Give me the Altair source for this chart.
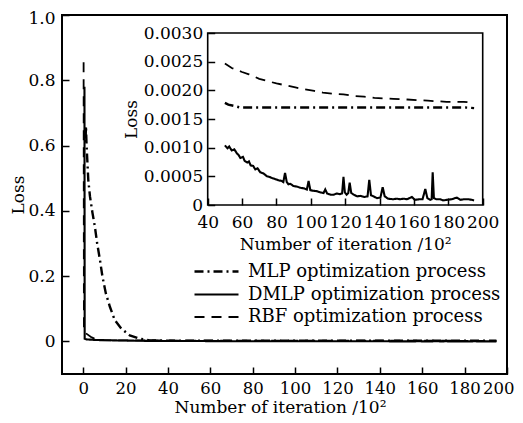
import altair as alt
import pandas as pd

# ---------------- data ----------------
series_names = ["MLP optimization process", "DMLP optimization process", "RBF optimization process"]

mlp_x = [0.9, 1.1, 1.3, 1.6, 2.4, 3.2, 4.4, 5.5, 6.6, 7.9, 9.1, 10.7, 12.6, 14.9, 18, 22, 26.7, 31.4, 40,
         50, 52, 55, 59, 70, 80, 90, 100, 110, 120, 130, 140, 150, 160, 170, 180, 190, 195]
mlp_y = [0.65, 0.61, 0.66, 0.60, 0.495, 0.444, 0.393, 0.352, 0.30, 0.25, 0.198, 0.147, 0.106, 0.065, 0.039, 0.018, 0.008, 0.003, 0.0019,
         0.00178, 0.00175, 0.00173, 0.0017, 0.0017, 0.0017, 0.0017, 0.0017, 0.0017, 0.0017, 0.0017, 0.0017, 0.0017, 0.0017, 0.0017, 0.0017, 0.0017, 0.00169]

dmlp_x = [0.6, 0.7, 1.5, 4, 7, 15, 30, 40,
          50, 51.5, 52.5, 54, 55.5, 57, 58, 59, 60.5, 61.5, 63, 64, 65, 66.5, 67.7, 69, 70.6, 72.5, 74.5, 76, 77.4,
          79.5, 81.3, 83, 84, 85, 86, 87, 88, 90, 92, 94, 96, 97.7, 98.7, 99.7, 101, 103.6, 105.5, 107.4, 108.4,
          109.5, 111.5, 113.3, 115, 117, 118.2, 119, 119.8, 120.8, 121.8, 122.6, 123.5, 125, 127, 129, 131, 133,
          134, 135, 136.5, 138.5, 140.5, 141.8, 143, 145, 148, 150, 152, 154, 156, 158.8, 160.5, 163, 165, 166.6,
          167.8, 169.5, 170.3, 170.9, 171.6, 173, 175.3, 177, 179, 182, 185, 187, 189, 192, 195]
dmlp_y = [0.78, 0.008, 0.006, 0.005, 0.004, 0.003, 0.0015, 0.0012,
          0.00104, 0.00099, 0.00102, 0.00095, 0.00097, 0.0009, 0.00087, 0.00082, 0.00084, 0.00077, 0.00074, 0.00076,
          0.00069, 0.00068, 0.00062, 0.00064, 0.00057, 0.00055, 0.0005, 0.00049, 0.00047,
          0.00045, 0.00043, 0.00042, 0.0004, 0.00056, 0.0004, 0.00036, 0.00037, 0.00033, 0.00032, 0.0003, 0.00029,
          0.00027, 0.00042, 0.00026, 0.00025, 0.00024, 0.00022, 0.00021, 0.00027,
          0.0002, 0.00018, 0.00018, 0.0002, 0.00019, 0.0002, 0.00049, 0.00022, 0.00018, 0.00021, 0.00039, 0.00021,
          0.00018, 0.00015, 0.00016, 0.00014, 0.00015,
          0.00044, 0.00017, 0.00015, 0.00012, 0.00013, 0.00031, 0.00015, 0.00011, 0.0001, 0.00011, 0.0001, 0.00011,
          0.0001, 0.00014, 0.00009, 0.0001, 0.0001, 0.00028,
          0.00012, 0.00009, 0.0001, 0.00057, 0.00012, 0.0001, 0.0001, 0.00008, 0.00009, 0.0001, 0.00013, 0.00009,
          0.0001, 0.0001, 0.00008]

rbf_x = [0.2, 0.35, 1.0, 4, 7, 15, 30, 40,
         50, 54, 60, 64, 70, 75, 80, 85, 91, 96, 102, 107, 113, 119, 125, 131, 137, 142, 148, 156, 162, 168,
         173, 179, 189, 195]
rbf_y = [0.855, 0.03, 0.026, 0.012, 0.004, 0.003, 0.0027, 0.0026,
         0.00247, 0.00239, 0.00232, 0.00228, 0.0022, 0.00216, 0.00212, 0.00209, 0.00205, 0.00202, 0.00199, 0.00196,
         0.00194, 0.00193, 0.0019, 0.00189, 0.00187, 0.00186, 0.00185, 0.00184, 0.00183, 0.00182,
         0.00181, 0.0018, 0.0018, 0.00178]

main_x_ticks = [0, 20, 40, 60, 80, 100, 120, 140, 160, 180, 200]
main_y_ticks = [0, 0.2, 0.4, 0.6, 0.8, 1.0]
main_x_domain = [-10, 200]
main_y_domain = [-0.1, 1.0]

inset_x_ticks = [40, 60, 80, 100, 120, 140, 160, 180, 200]
inset_y_ticks = [0, 0.0005, 0.001, 0.0015, 0.002, 0.0025, 0.003]
inset_x_domain = [40, 200]
inset_y_domain = [0, 0.003]
inset_start = 50

x_title = "Number of iteration /10²"
y_title = "Loss"

# ---------------- tables ----------------
rows = []
for name, xs, ys in zip(series_names, [mlp_x, dmlp_x, rbf_x], [mlp_y, dmlp_y, rbf_y]):
    rows += [{"series": name, "x": a, "y": b} for a, b in zip(xs, ys)]
df = pd.DataFrame(rows)
frame_df = pd.DataFrame([{"x0": inset_x_domain[0], "x1": inset_x_domain[1],
                          "y0": inset_y_domain[0], "y1": inset_y_domain[1]}])

# ---------------- layout ----------------
W, H = 445, 359
FONT = "DejaVu Serif"
TICK = 7
IN_L, IN_R, IN_T, IN_B = 145.7, 420.7, 18, 190   # inset rectangle inside plot area (px)

dash_scale = alt.Scale(domain=series_names, range=[[9, 4, 2, 4], [1, 0], [10, 7]])
width_scale = alt.Scale(domain=series_names, range=[2.4, 1.8, 2.6])
legend = alt.Legend(title=None, orient="none", legendX=142, legendY=244,
                    symbolType="M-2,0L2,0", symbolSize=484, symbolStrokeWidth=2.2,
                    symbolStrokeColor="black", labelFont=FONT, labelFontSize=18,
                    labelColor="black", labelOffset=19, labelLimit=0, rowPadding=1, padding=0)

mx = alt.Scale(domain=main_x_domain, nice=False, zero=False)
my = alt.Scale(domain=main_y_domain, nice=False, zero=False)
ix = alt.Scale(domain=inset_x_domain, range=[IN_L, IN_R], nice=False, zero=False)
iy = alt.Scale(domain=inset_y_domain, range=[IN_B, IN_T], nice=False, zero=False)

y_main_labels = "datum.value == 0 ? '0' : format(datum.value, '.1f')"
y_inset_labels = "datum.value == 0 ? '0' : format(datum.value, '.4f')"


def label_axis(orient, values, title, offset=0, expr=None, pad=6, tpad=4, flush=False, **extra):
    kw = dict(orient=orient, values=values, ticks=False, domain=False, grid=False,
              labelPadding=pad, labelFlush=flush, labelOverlap=False, title=title,
              titlePadding=tpad, offset=offset, zindex=1)
    if expr:
        kw["labelExpr"] = expr
    else:
        kw["format"] = "d"
    kw.update(extra)
    return alt.Axis(**kw)


def tick_axis(orient, values, offset):
    return alt.Axis(orient=orient, values=values, labels=False, domain=False, grid=False,
                    ticks=True, tickSize=TICK, tickWidth=1.5, tickColor="black",
                    offset=offset, title=None, zindex=1)


main_lines = alt.Chart(df).mark_line(color="black").encode(
    x=alt.X("x:Q", scale=mx, axis=label_axis("bottom", main_x_ticks, x_title, pad=6, tpad=3,
                                             flush=True, labelFlushOffset=7, titleX=218,
                                             labelFontSize=16.5)),
    y=alt.Y("y:Q", scale=my, axis=label_axis("left", main_y_ticks, y_title, expr=y_main_labels, pad=7, tpad=0,
                                             flush=True, labelFlushOffset=5)),
    strokeDash=alt.StrokeDash("series:N", scale=dash_scale, legend=legend),
    strokeWidth=alt.StrokeWidth("series:N", scale=width_scale, legend=None),
)
main_ticks = alt.Chart(df).mark_line(opacity=0).encode(
    x=alt.X("x:Q", scale=mx, axis=tick_axis("bottom", main_x_ticks, -TICK)),
    y=alt.Y("y:Q", scale=my, axis=tick_axis("left", main_y_ticks, -TICK)),
)
main = alt.layer(main_lines, main_ticks).resolve_axis(x="independent", y="independent")

inset_frame = alt.Chart(frame_df).mark_rect(fill="white", stroke="black", strokeWidth=1.6).encode(
    x=alt.X("x0:Q", scale=ix, axis=None), x2="x1:Q",
    y=alt.Y("y0:Q", scale=iy, axis=None), y2="y1:Q",
)
inset_lines = alt.Chart(df).transform_filter(f"datum.x >= {inset_start}").mark_line(
    color="black").encode(
    x=alt.X("x:Q", scale=ix, axis=label_axis("bottom", inset_x_ticks, x_title, offset=IN_B - H, pad=9, tpad=6)),
    y=alt.Y("y:Q", scale=iy, axis=label_axis("left", inset_y_ticks, y_title, offset=-IN_L, expr=y_inset_labels, pad=5, tpad=3)),
    strokeDash=alt.StrokeDash("series:N", scale=dash_scale, legend=legend),
    strokeWidth=alt.StrokeWidth("series:N", scale=width_scale, legend=None),
)
inset_ticks = alt.Chart(df).transform_filter(f"datum.x >= {inset_start}").mark_line(opacity=0).encode(
    x=alt.X("x:Q", scale=ix, axis=tick_axis("bottom", inset_x_ticks, IN_B - H - TICK)),
    y=alt.Y("y:Q", scale=iy, axis=tick_axis("left", inset_y_ticks, -IN_L - TICK)),
)
inset = alt.layer(inset_frame, inset_lines, inset_ticks).resolve_axis(x="independent", y="independent")

chart = alt.layer(main, inset).resolve_scale(x="independent", y="independent").properties(
    width=W, height=H,
    padding={"left": 54, "top": 7, "right": 8, "bottom": 48},
    autosize=alt.AutoSizeParams(type="none"),
    background="white",
).configure_view(stroke="black", strokeWidth=2).configure_axis(
    labelFont=FONT, titleFont=FONT, labelFontSize=17, titleFontSize=17,
    titleFontWeight="normal", labelColor="black", titleColor="black",
)

chart.save("out.html", embed_options={"renderer": "svg", "actions": False})
